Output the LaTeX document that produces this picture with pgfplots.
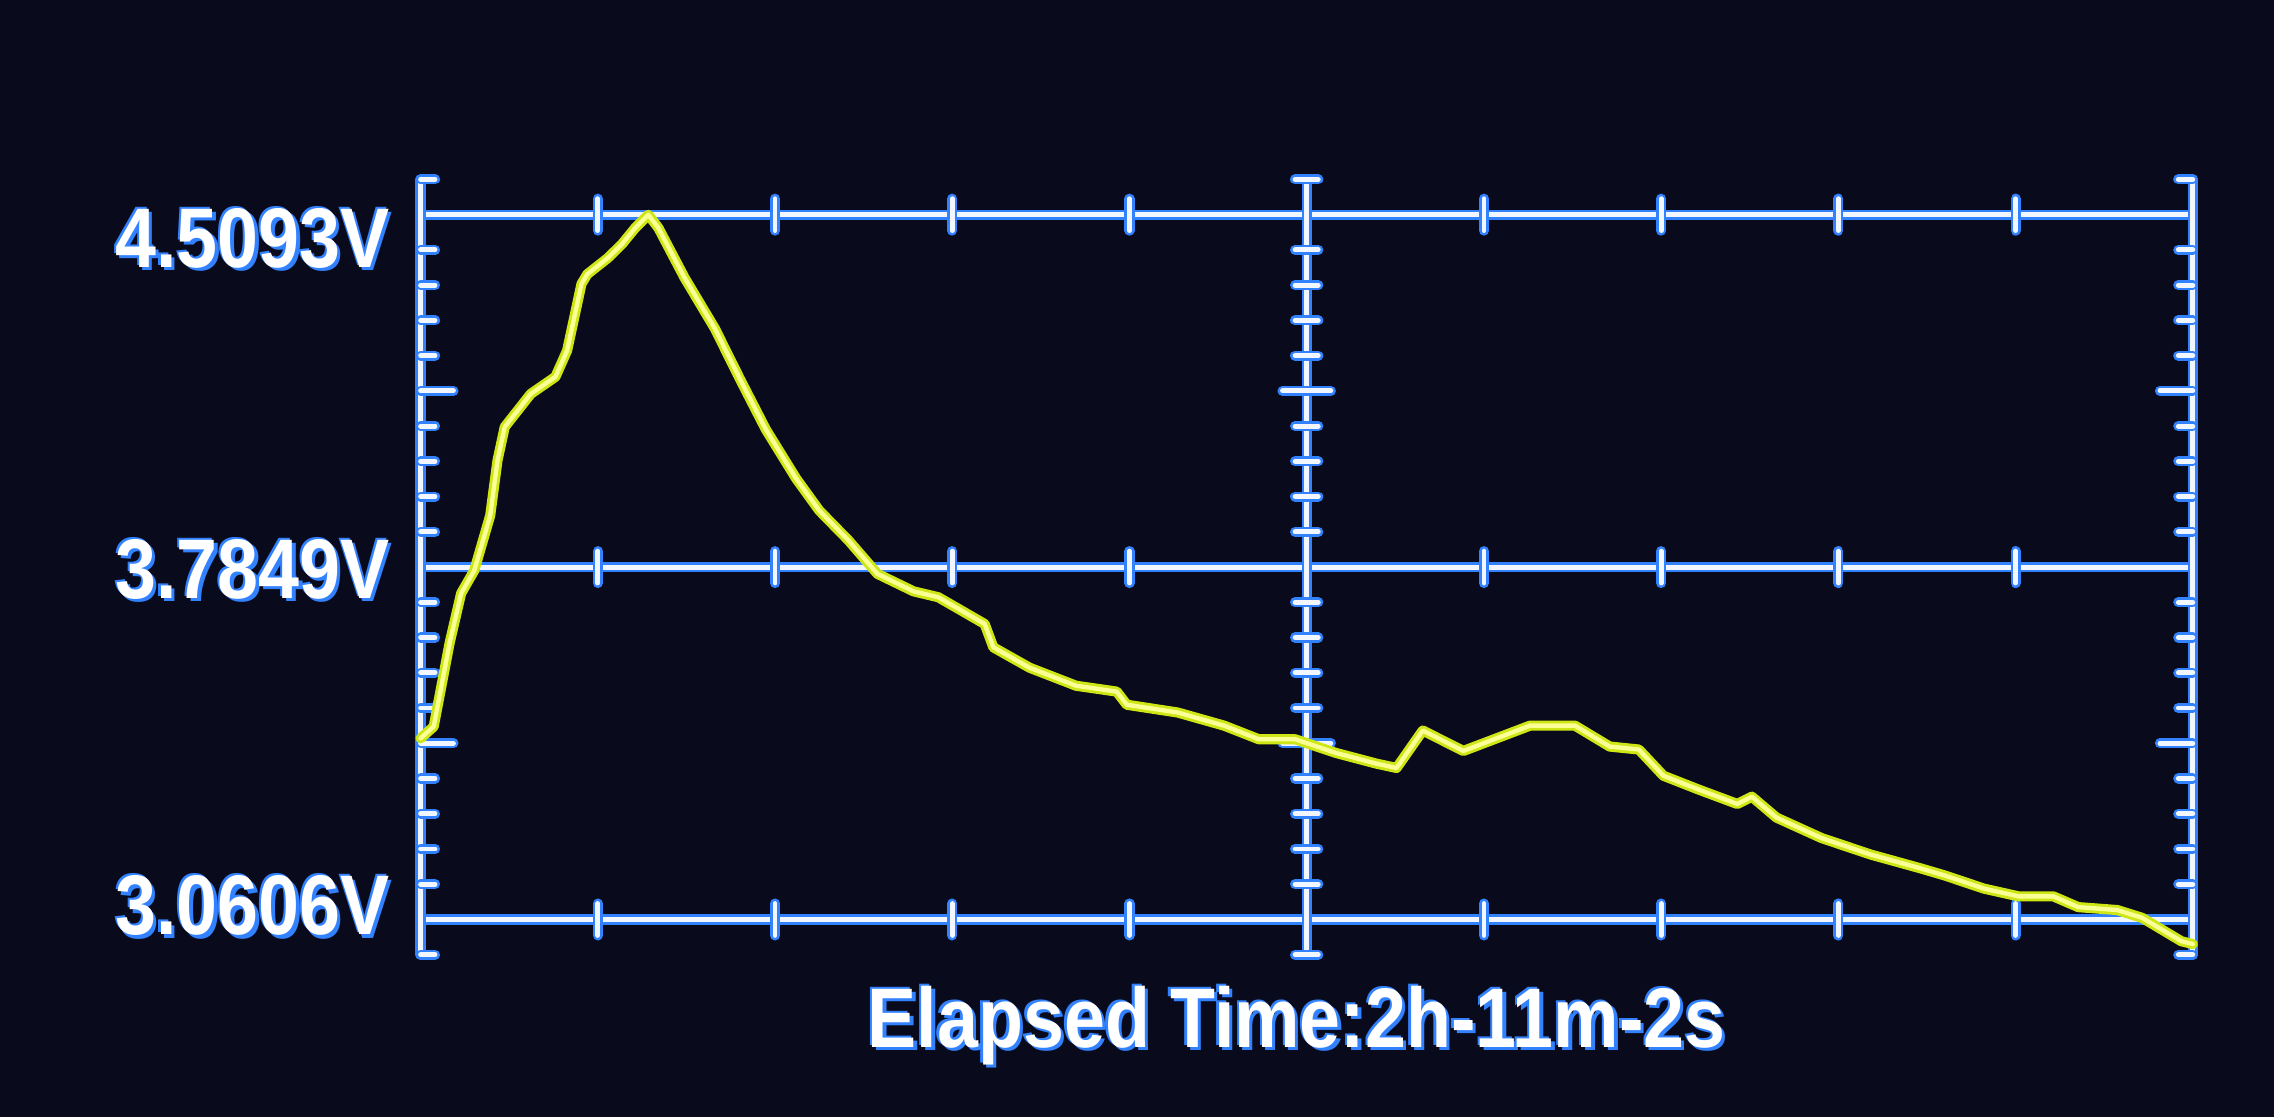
\documentclass[border=0pt]{standalone}
\usepackage{pgfplots}
\pgfplotsset{compat=1.18}
\usepackage{pgfplotstable}
\usepackage{fontspec}
\newfontfamily\scr{Liberation Sans}[FakeStretch=0.87]
\definecolor{bg}{RGB}{9,10,28}
\definecolor{glowblue}{RGB}{50,130,255}
\definecolor{gridwhite}{RGB}{242,247,255}
\definecolor{curveout}{RGB}{205,230,20}
\definecolor{curvein}{RGB}{250,255,150}
\newcommand\glowtext[1]{\makebox[0pt][l]{\hspace{0.7pt}\raisebox{-0.7pt}{\color{glowblue}#1}}\makebox[0pt][l]{\hspace{-0.5pt}\raisebox{0.35pt}{\color{glowblue}#1}}{\color{white}#1}}
\newcommand\scrfont{\scr\bfseries\fontsize{17.5pt}{20pt}\selectfont}
\pgfplotstableread{
x y
0.000 3.433
0.074 3.457
0.164 3.629
0.229 3.731
0.303 3.778
0.393 3.891
0.434 4.004
0.475 4.073
0.622 4.141
0.761 4.176
0.827 4.230
0.908 4.367
0.941 4.387
1.056 4.420
1.137 4.449
1.211 4.482
1.285 4.509
1.342 4.482
1.489 4.380
1.661 4.275
1.800 4.173
1.948 4.068
2.119 3.967
2.250 3.901
2.414 3.840
2.578 3.771
2.782 3.735
2.921 3.723
3.183 3.668
3.232 3.620
3.437 3.578
3.699 3.541
3.928 3.529
3.985 3.502
4.272 3.486
4.534 3.459
4.730 3.431
4.935 3.431
5.164 3.403
5.393 3.381
5.507 3.372
5.655 3.449
5.884 3.407
6.260 3.459
6.514 3.459
6.710 3.416
6.874 3.410
7.013 3.356
7.209 3.328
7.430 3.298
7.512 3.313
7.651 3.270
7.905 3.228
8.183 3.194
8.461 3.166
8.601 3.151
8.822 3.124
9.018 3.108
9.214 3.108
9.354 3.086
9.574 3.080
9.714 3.064
9.935 3.016
10.000 3.010
}\volt
\begin{document}
\begin{tikzpicture}[grat/.style={draw=gridwhite, line width=1.0pt, line cap=round, preaction={draw=glowblue, line width=2.1pt, line cap=round}}]
\fill[bg] (-87pt,-33.51pt) rectangle (383.4pt,197.49pt);
\begin{axis}[
  at={(0,0)}, anchor=south west,
  width=366.6pt, height=160.38pt, scale only axis,
  xmin=0, xmax=10, ymin=2.988165, ymax=4.581735,
  axis line style={draw=none},
  tick style={draw=none},
  major tick length=0pt,
  xtick=\empty,
  ytick={3.0874,3.779,4.4586},
  yticklabels={\glowtext{3.0606V},\glowtext{3.7849V},\glowtext{4.5093V}},
  yticklabel style={anchor=east, inner sep=0pt, xshift=-6.2pt, font=\scrfont},
  xlabel={\glowtext{Elapsed Time:2h-11m-2s}},
  xlabel style={at={(axis description cs:0.4943,0)}, anchor=base, inner sep=0pt, yshift=-19.2pt, font=\scrfont},
  clip=false,
]
% graticule
\draw[grat] (axis cs:0,3.0606) -- (axis cs:10,3.0606);
\draw[grat] (axis cs:0,3.7849) -- (axis cs:10,3.7849);
\draw[grat] (axis cs:0,4.5093) -- (axis cs:10,4.5093);
\draw[grat] (axis cs:0,2.988165) -- (axis cs:0,4.581735);
\draw[grat] (axis cs:5,2.988165) -- (axis cs:5,4.581735);
\draw[grat] (axis cs:10,2.988165) -- (axis cs:10,4.581735);
\pgfplotsinvokeforeach{1,2,3,4,6,7,8,9}{
  \draw[grat] ([yshift=-3.3pt]axis cs:#1,3.0606) -- ([yshift=3.3pt]axis cs:#1,3.0606);
  \draw[grat] ([yshift=-3.3pt]axis cs:#1,3.7849) -- ([yshift=3.3pt]axis cs:#1,3.7849);
  \draw[grat] ([yshift=-3.3pt]axis cs:#1,4.5093) -- ([yshift=3.3pt]axis cs:#1,4.5093);
}
\pgfplotsinvokeforeach{-1,1,2,3,4,6,7,8,9,11,12,13,14,16,17,18,19,21}{
  \draw[grat] (axis cs:0,{3.0606+#1*0.072435}) -- ([xshift=3pt]axis cs:0,{3.0606+#1*0.072435});
  \draw[grat] ([xshift=-2.4pt]axis cs:5,{3.0606+#1*0.072435}) -- ([xshift=2.4pt]axis cs:5,{3.0606+#1*0.072435});
  \draw[grat] (axis cs:10,{3.0606+#1*0.072435}) -- ([xshift=-3pt]axis cs:10,{3.0606+#1*0.072435});
}
\pgfplotsinvokeforeach{5,15}{
  \draw[grat] (axis cs:0,{3.0606+#1*0.072435}) -- ([xshift=6.8pt]axis cs:0,{3.0606+#1*0.072435});
  \draw[grat] ([xshift=-5pt]axis cs:5,{3.0606+#1*0.072435}) -- ([xshift=5pt]axis cs:5,{3.0606+#1*0.072435});
  \draw[grat] (axis cs:10,{3.0606+#1*0.072435}) -- ([xshift=-6.8pt]axis cs:10,{3.0606+#1*0.072435});
}
% voltage curve
\addplot[draw=curveout, line width=2.1pt, line join=round, line cap=round] table[x=x,y=y] {\volt};
\addplot[draw=curvein, line width=0.9pt, line join=round, line cap=round] table[x=x,y=y] {\volt};
\end{axis}
\pgfresetboundingbox
\path[use as bounding box] (-87pt,-33.51pt) rectangle (383.4pt,197.49pt);
\end{tikzpicture}
\end{document}
